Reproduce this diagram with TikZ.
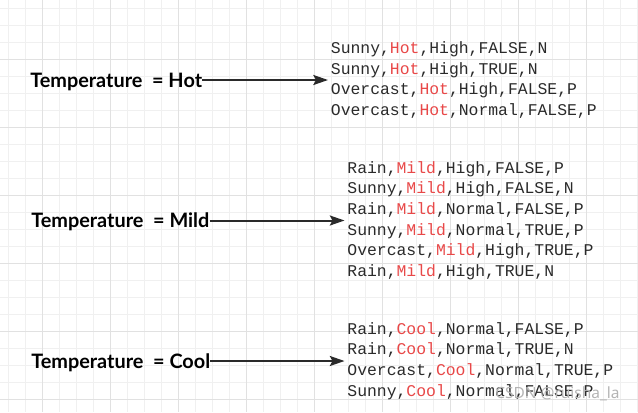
\documentclass[tikz,border=0pt]{standalone}
\usepackage{fontspec}
\newfontfamily\labelfont{Lato}
\newfontfamily\markfont{Noto Sans}
\newfontfamily\rowfont{Liberation Mono}
\usetikzlibrary{arrows.meta}
\definecolor{gridminor}{HTML}{F0F0F0}
\definecolor{gridmajor}{HTML}{E1E1E1}
\definecolor{rowgray}{HTML}{2A2A2A}
\definecolor{valred}{HTML}{E84848}
\definecolor{markgray}{HTML}{B4B4B4}
\tikzset{>={Stealth[length=11pt,width=7.5pt,inset=2pt]}}
\newcommand{\val}[1]{\textcolor{valred}{#1}}
\newcommand{\drawlabel}{\node[anchor=west,inner sep=0,text depth=0pt,font=\labelfont\bfseries\fontsize{14.9}{17}\selectfont]}
\newcommand{\drawrows}{\node[anchor=west,align=left,inner sep=2pt,text=rowgray,font=\rowfont\fontsize{12.3}{15.4}\selectfont]}

\begin{document}
\begin{tikzpicture}[x=0.75pt,y=-0.75pt]
	\useasboundingbox (0,0) rectangle (638,412);
	
	% background grid
	\foreach \k in {0,...,37} \draw[gridminor,line width=0.75pt] (8.7+17*\k,0) -- (8.7+17*\k,412);
	\foreach \k in {0,...,23} \draw[gridminor,line width=0.75pt] (0,8.3+17*\k) -- (638,8.3+17*\k);
	\foreach \k in {0,...,8} \draw[gridmajor,line width=0.75pt] (42.7+68*\k,0) -- (42.7+68*\k,412);
	\foreach \k in {0,...,5} \draw[gridmajor,line width=0.75pt] (0,59.3+68*\k) -- (638,59.3+68*\k);
	
	\drawlabel (hot) at (30,80) {Temperature~~= Hot};
	\drawlabel (mild) at (31,220.5) {Temperature~~= Mild};
	\drawlabel (cool) at (31,361) {Temperature~~= Cool};
	
	\drawrows (hotrows) at (328,80) {Sunny,\val{Hot},High,FALSE,N\\Sunny,\val{Hot},High,TRUE,N\\Overcast,\val{Hot},High,FALSE,P\\Overcast,\val{Hot},Normal,FALSE,P};
	\drawrows (mildrows) at (344.5,220.5) {Rain,\val{Mild},High,FALSE,P\\Sunny,\val{Mild},High,FALSE,N\\Rain,\val{Mild},Normal,FALSE,P\\Sunny,\val{Mild},Normal,TRUE,P\\Overcast,\val{Mild},High,TRUE,P\\Rain,\val{Mild},High,TRUE,N};
	\drawrows (coolrows) at (344.5,361) {Rain,\val{Cool},Normal,FALSE,P\\Rain,\val{Cool},Normal,TRUE,N\\Overcast,\val{Cool},Normal,TRUE,P\\Sunny,\val{Cool},Normal,FALSE,P};
	
	\draw[->,line width=1.5pt,rowgray] (hot) -- (hotrows);
	\draw[->,line width=1.5pt,rowgray] (mild) -- (mildrows);
	\draw[->,line width=1.5pt,rowgray] (cool) -- (coolrows);
	
	\node[anchor=base west,inner sep=0,text=markgray,font=\markfont\fontsize{11.6}{14}\selectfont] (watermark) at (495,398.5) {CSDN @ruisha\_la};
	
\end{tikzpicture}
\end{document}
